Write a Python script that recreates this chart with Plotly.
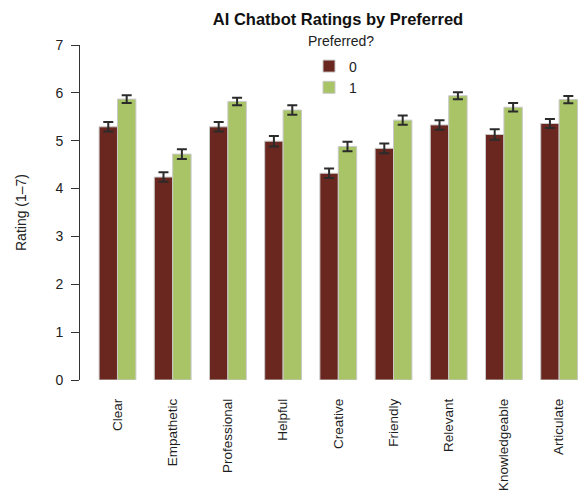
import plotly.graph_objects as go

# Survey of chatbot attribute ratings, split by whether the bot was preferred
attributes = ["Clear", "Empathetic", "Professional", "Helpful", "Creative",
              "Friendly", "Relevant", "Knowledgeable", "Articulate"]
mean_not_preferred = [5.29, 4.24, 5.29, 4.99, 4.32, 4.84, 5.33, 5.13, 5.36]
mean_preferred = [5.87, 4.72, 5.82, 5.64, 4.88, 5.43, 5.94, 5.70, 5.86]
se_not_preferred = [0.10, 0.10, 0.10, 0.11, 0.10, 0.10, 0.10, 0.11, 0.095]
se_preferred = [0.08, 0.10, 0.08, 0.10, 0.10, 0.095, 0.075, 0.09, 0.075]
group_labels = ["0", "1"]

COL_NO = "#69271f"
COL_YES = "#a9c466"
FONT = "Liberation Sans, Arial, Helvetica, sans-serif"

W, H = 578, 491
L, R, T, B = 80, 0, 45, 111
PW, PH = W - L - R, H - T - B


def px_x(p):
    return (p - L) / PW


def px_y(p):
    return (H - B - p) / PH


fig = go.Figure()
for name, vals, errs, col in [
    (group_labels[0], mean_not_preferred, se_not_preferred, COL_NO),
    (group_labels[1], mean_preferred, se_preferred, COL_YES),
]:
    fig.add_trace(go.Bar(
        x=attributes, y=vals, name=name,
        marker=dict(color=col, line=dict(color="#c9c9c9", width=1)),
        error_y=dict(type="data", array=errs, visible=True,
                     color="#2b2b2b", thickness=2, width=5),
    ))

fig.update_layout(
    width=W, height=H,
    margin=dict(l=L, r=R, t=T, b=B, pad=0, autoexpand=False),
    paper_bgcolor="white", plot_bgcolor="white",
    font=dict(family=FONT, size=14, color="#222222"),
    barmode="group", bargap=1/3, bargroupgap=0,
    title=dict(text="<b>AI Chatbot Ratings by Preferred</b>",
               font=dict(size=16.5, color="#111111"),
               x=338 / W, xanchor="center", xref="container",
               y=1 - 19 / H, yanchor="middle", yref="container"),
    legend=dict(
        x=px_x(309), xanchor="left",
        y=px_y(50.5), yanchor="top",
        bgcolor="rgba(0,0,0,0)", font=dict(size=14),
        itemwidth=30, tracegroupgap=0,
    ),
    showlegend=True,
    annotations=[dict(
        text="Preferred?", xref="paper", yref="paper",
        x=px_x(341), y=px_y(41.5), xanchor="center", yanchor="middle",
        showarrow=False, font=dict(size=14, color="#222222"),
    )],
)

fig.update_xaxes(
    type="category", range=[-0.679, 8.342], automargin=False,
    tickangle=-90, ticks="", showline=False, showgrid=False,
    zeroline=False, ticklabelstandoff=15,
    tickfont=dict(size=13.5, color="#1e1e1e"),
)
fig.update_yaxes(
    range=[0, 7], tickvals=[0, 1, 2, 3, 4, 5, 6, 7], automargin=False,
    showline=True, linecolor="#333333", linewidth=1,
    ticks="outside", ticklen=8, tickcolor="#333333", tickwidth=1,
    showgrid=False, zeroline=False, ticklabelstandoff=5,
    tickfont=dict(size=14, color="#222222"),
    title=dict(text="Rating (1–7)", standoff=25,
               font=dict(size=14, color="#222222")),
)

fig.write_html("out.html")
